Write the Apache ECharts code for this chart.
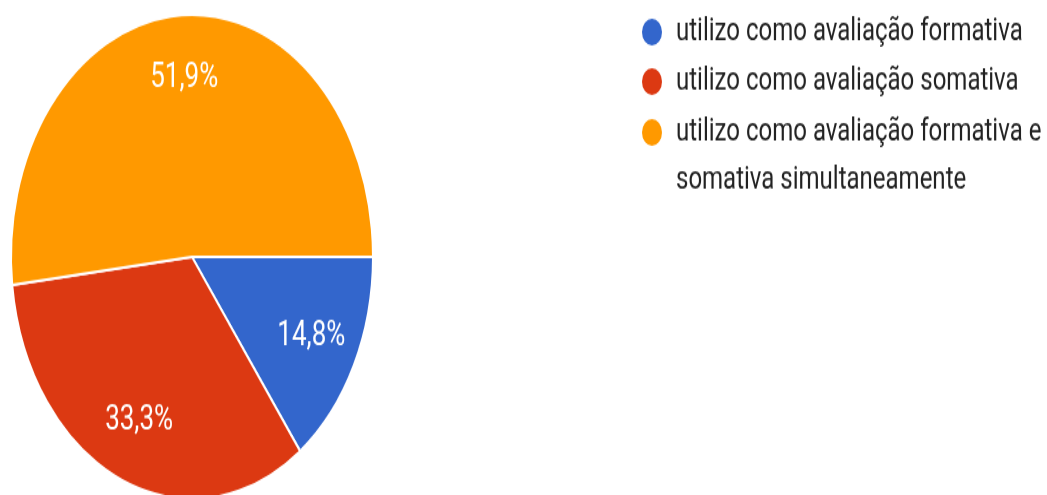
<!DOCTYPE html>
<html lang="pt">
<head>
<meta charset="UTF-8">
<title>Pie</title>
<script src="https://cdn.jsdelivr.net/npm/echarts@6/dist/echarts.min.js"></script>
<style>
html,body{margin:0;padding:0;background:#fff;}
#wrap{width:1047px;height:495px;overflow:hidden;position:relative;}
/* the reference is stretched vertically, so draw at 370px and stretch */
#main{position:absolute;left:0;top:0;width:1047px;height:370px;transform:scaleY(1.3378);transform-origin:0 0;}
</style>
</head>
<body>
<div id="wrap"><div id="main"></div></div>
<script>
var categories = [
	'utilizo como avaliação formativa',
	'utilizo como avaliação somativa',
	'utilizo como avaliação formativa e somativa simultaneamente'
];
var counts = [4, 9, 14];
var colors = ['#3366cc', '#dc3912', '#ff9900'];

var myChart = echarts.init(document.getElementById('main'));

var pieData = [];
for (var i = 0; i < categories.length; i++) {
	pieData.push({name: categories[i], value: counts[i]});
}

function fmt(p) {
	return p.percent.toFixed(1).replace('.', ',') + '%';
}

var legendText = {
	fontFamily: 'Roboto',
	fontSize: 24,
	color: '#222',
	lineHeight: 36,
	padding: [0, 0, 0, 8]
};

var option = {
	animation: false,
	color: colors,
	legend: [
		{
			orient: 'vertical',
			left: 640,
			top: 6,
			padding: 0,
			icon: 'circle',
			itemWidth: 22,
			itemHeight: 22,
			itemGap: 1,
			data: [categories[0], categories[1]],
			textStyle: legendText
		},
		{
			// long item: wrapped, first line kept level with the dot
			orient: 'vertical',
			left: 640,
			top: 45,
			padding: 0,
			icon: 'circle',
			itemWidth: 22,
			itemHeight: 22,
			data: [categories[2]],
			formatter: function (name) {
				return '\nutilizo como avaliação formativa e\nsomativa simultaneamente';
			},
			textStyle: legendText
		}
	],
	series: [
		{
			name: 'pie',
			type: 'pie',
			center: [192, 192],
			radius: [0, 181],
			startAngle: 0,
			clockwise: true,
			silent: true,
			label: {show: false},
			labelLine: {show: false},
			itemStyle: {borderColor: '#fff', borderWidth: 2},
			data: pieData
		},
		{
			// transparent ring only carries the labels at ~0.72r
			name: 'labels',
			type: 'pie',
			center: [192, 192],
			radius: [80, 181],
			startAngle: 0,
			clockwise: true,
			silent: true,
			itemStyle: {color: 'rgba(0,0,0,0)', borderWidth: 0},
			label: {
				show: true,
				position: 'inside',
				formatter: fmt,
				color: '#fff',
				fontFamily: 'Roboto',
				fontSize: 26
			},
			labelLine: {show: false},
			data: pieData
		}
	]
};
myChart.setOption(option);
</script>
</body>
</html>
